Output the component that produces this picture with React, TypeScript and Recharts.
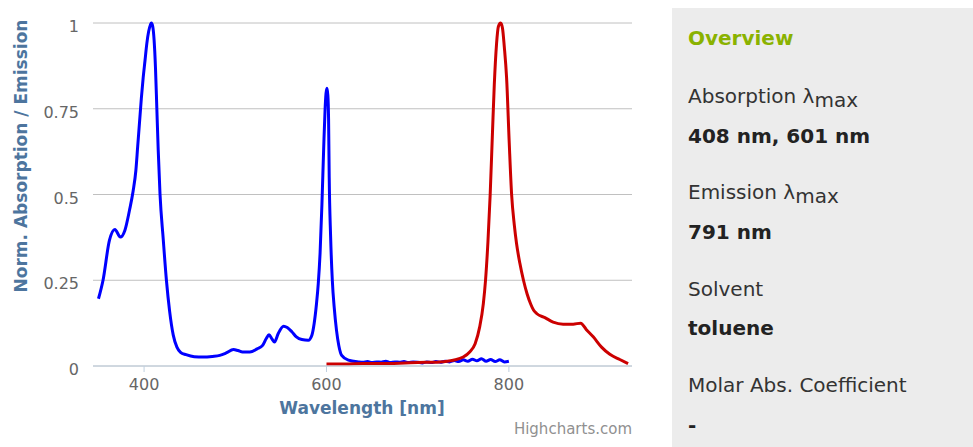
import React from "react";
import { LineChart, Line, XAxis, YAxis, CartesianGrid } from "recharts";

// absorption spectrum (blue)
const absNm = [350, 355, 362, 368, 374, 379, 384, 388, 391, 393, 395, 397, 399, 401, 403, 405, 407, 408, 409.5, 411, 412.5, 414, 415.5, 417.5, 421, 424.5, 428, 432, 436, 440, 446, 455, 465, 475, 483, 490, 498, 503, 508, 516, 524, 530, 534, 537, 540, 543, 547, 553, 557, 562, 567, 573, 580, 584, 586.5, 589, 591, 593, 595, 597, 598.5, 599.5, 600.5, 601.5, 602.3, 603, 604.5, 606.4, 608.5, 611, 613.5, 616.7, 624, 635, 640, 645, 650, 655, 660, 665, 670, 675, 680, 685, 690, 695, 700, 705, 710, 715, 720, 725, 730, 735, 740, 745, 750, 755, 760, 765, 770, 775, 780, 785, 790, 795, 800];
const absVal = [0.196, 0.25, 0.366, 0.398, 0.376, 0.396, 0.454, 0.51, 0.57, 0.64, 0.71, 0.78, 0.84, 0.89, 0.94, 0.975, 0.995, 1.0, 0.99, 0.95, 0.87, 0.75, 0.63, 0.5, 0.37, 0.25, 0.16, 0.09, 0.055, 0.04, 0.033, 0.027, 0.026, 0.028, 0.031, 0.038, 0.048, 0.045, 0.041, 0.041, 0.05, 0.06, 0.08, 0.091, 0.08, 0.07, 0.094, 0.116, 0.112, 0.1, 0.085, 0.077, 0.075, 0.09, 0.124, 0.18, 0.24, 0.33, 0.47, 0.64, 0.75, 0.795, 0.81, 0.79, 0.72, 0.55, 0.38, 0.25, 0.17, 0.104, 0.06, 0.031, 0.017, 0.012, 0.011, 0.013, 0.01, 0.012, 0.011, 0.014, 0.01, 0.012, 0.011, 0.013, 0.01, 0.012, 0.011, 0.009, 0.012, 0.01, 0.013, 0.011, 0.014, 0.012, 0.016, 0.013, 0.018, 0.014, 0.02, 0.015, 0.021, 0.014, 0.019, 0.013, 0.018, 0.012, 0.014];

// emission spectrum (red)
const emNm = [600, 620, 640, 660, 680, 700, 724, 739, 750, 757, 763, 768, 772, 774.4, 777, 779.5, 782, 784, 786.5, 788.5, 791, 793, 795, 797.5, 800.4, 803, 806, 808.4, 812, 816, 820, 824, 827, 830.4, 839.5, 848.5, 859.5, 870.5, 878.6, 885, 892.5, 901.6, 910.7, 921.6, 930.7];
const emVal = [0.006, 0.006, 0.007, 0.007, 0.008, 0.01, 0.012, 0.017, 0.026, 0.041, 0.065, 0.114, 0.182, 0.25, 0.36, 0.5, 0.68, 0.82, 0.94, 0.99, 1.0, 0.985, 0.93, 0.84, 0.65, 0.5, 0.41, 0.357, 0.3, 0.25, 0.21, 0.18, 0.163, 0.153, 0.141, 0.128, 0.122, 0.122, 0.125, 0.106, 0.085, 0.055, 0.034, 0.019, 0.007];

const xTicks = [400, 600, 800];
const yTicks = [0, 0.25, 0.5, 0.75, 1];

const absorption = absNm.map((nm, i) => ({ nm, v: absVal[i] }));
const emission = emNm.map((nm, i) => ({ nm, v: emVal[i] }));

const FONT = "'DejaVu Sans', Verdana, sans-serif";

const XTick = (props: any) => {
  const { x, y, payload } = props;
  return (
    <text x={x} y={y + 15.5} textAnchor="middle" fontFamily={FONT} fontSize={16} fill="#666">
      {payload.value}
    </text>
  );
};

const YTick = (props: any) => {
  const { x, y, payload } = props;
  return (
    <text x={x} y={y + 9} textAnchor="end" fontFamily={FONT} fontSize={16} fill="#666">
      {payload.value}
    </text>
  );
};

const panelLines = [
  { label: "Absorption λ", sub: "max", value: "408 nm, 601 nm" },
  { label: "Emission λ", sub: "max", value: "791 nm" },
  { label: "Solvent", sub: "", value: "toluene" },
  { label: "Molar Abs. Coefficient", sub: "", value: "-" },
];

export default function App() {
  return (
    <div style={{ position: "absolute", left: 0, top: 0, width: 973, height: 447, background: "#fff" }}>
      <div style={{ position: "absolute", left: 0, top: 0 }}>
        <LineChart width={660} height={447} margin={{ top: 23, right: 28, bottom: 31, left: 33 }}>
          <CartesianGrid horizontal vertical={false} stroke="#c0c0c0" />
          <XAxis
            dataKey="nm"
            type="number"
            domain={[344, 935]}
            ticks={xTicks}
            allowDataOverflow
            height={50}
            stroke="#c0d0e0"
            tickSize={6}
            tick={<XTick />}
          />
          <YAxis
            type="number"
            domain={[0, 1]}
            ticks={yTicks}
            width={60}
            axisLine={false}
            tickLine={false}
            tickMargin={8}
            tick={<YTick />}
          />
          <Line data={absorption} dataKey="v" type="monotone" stroke="#0000ff" strokeWidth={3} dot={false} isAnimationActive={false} />
          <Line data={emission} dataKey="v" type="monotone" stroke="#cc0000" strokeWidth={3} dot={false} isAnimationActive={false} />
        </LineChart>
      </div>
      <svg width={973} height={447} style={{ position: "absolute", left: 0, top: 0, pointerEvents: "none" }}>
        <text
          transform="translate(27,156) rotate(-90)"
          textAnchor="middle"
          fontFamily={FONT}
          fontSize={17}
          fontWeight="bold"
          fill="#4d759e"
        >
          Norm. Absorption / Emission
        </text>
        <text x={362} y={414} textAnchor="middle" fontFamily={FONT} fontSize={17} fontWeight="bold" fill="#4d759e">
          Wavelength [nm]
        </text>
        <text x={632} y={434} textAnchor="end" fontFamily={FONT} fontSize={15} fill="#909090">
          Highcharts.com
        </text>
        <rect x={672} y={8} width={301} height={439} fill="#ececec" />
        <text x={688} y={45} fontFamily={FONT} fontSize={20} fontWeight="bold" fill="#8ab200">
          Overview
        </text>
        {panelLines.map((p, i) => (
          <g key={p.label}>
            <text x={688} y={103 + i * 96.4} fontFamily={FONT} fontSize={20} fill="#333">
              {p.label}
              {p.sub ? <tspan dy={4}>{p.sub}</tspan> : null}
            </text>
            <text x={688} y={142.5 + i * 96.4} fontFamily={FONT} fontSize={20} fontWeight="bold" fill="#222">
              {p.value}
            </text>
          </g>
        ))}
      </svg>
    </div>
  );
}
